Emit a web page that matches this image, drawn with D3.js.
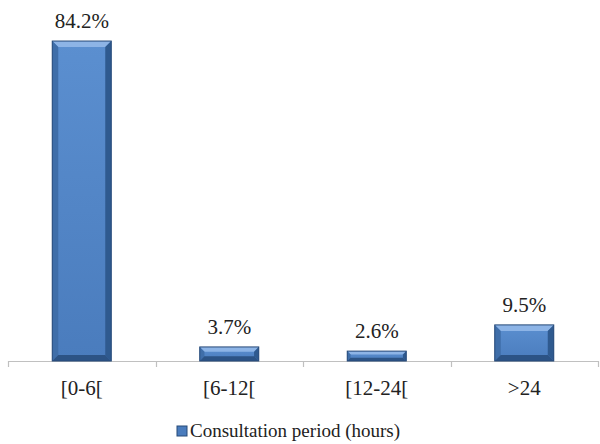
<!DOCTYPE html>
<html>
<head>
<meta charset="utf-8">
<script src="https://cdn.jsdelivr.net/npm/d3@7"></script>
<style>
  body { margin: 0; background: #fff; }
  svg { display: block; }
</style>
</head>
<body>
<svg width="600" height="444"></svg>
<script>
// values
var categories = ["[0-6[", "[6-12[", "[12-24[", ">24"];
var values = [84.2, 3.7, 2.6, 9.5];
var seriesName = "Consultation period (hours)";

var FONT = "'Liberation Serif', 'Times New Roman', serif";

var svg = d3.select("svg");
var plotLeft = 8, plotRight = 598, plotBottom = 361, plotTop = 19;

var x = d3.scaleBand().domain(categories).range([plotLeft, plotRight]).paddingInner(0.6).paddingOuter(0.3);
var y = d3.scaleLinear().domain([0, 90]).range([plotBottom, plotTop]);

var defs = svg.append("defs");
var g = defs.append("linearGradient").attr("id", "barFill").attr("x1", 0).attr("x2", 0).attr("y1", 0).attr("y2", 1);
g.append("stop").attr("offset", "0%").attr("stop-color", "#5b8fd0");
g.append("stop").attr("offset", "100%").attr("stop-color", "#4a7cbd");

// axis line + category boundary ticks
var step = (plotRight - plotLeft) / categories.length;
svg.append("line").attr("x1", plotLeft).attr("x2", plotRight).attr("y1", plotBottom + 0.5).attr("y2", plotBottom + 0.5)
  .attr("stroke", "#c0c0c0").attr("stroke-width", 1.2);
d3.range(categories.length + 1).forEach(function (i) {
  var tx = Math.round(plotLeft + i * step) + 0.5;
  svg.append("line").attr("x1", tx).attr("x2", tx).attr("y1", plotBottom).attr("y2", plotBottom + 6)
    .attr("stroke", "#c0c0c0").attr("stroke-width", 1.2);
});

var bars = svg.selectAll(".bar").data(values).enter().append("g").attr("class", "bar");

bars.each(function (d, i) {
  var b = d3.select(this);
  var x0 = x(categories[i]), w = x.bandwidth();
  var y0 = y(d), h = plotBottom - y0;
  var bv = Math.min(6, h / 3);
  b.append("rect").attr("x", x0).attr("y", y0).attr("width", w).attr("height", h).attr("fill", "url(#barFill)");
  // bevel edges
  b.append("polygon").attr("points", [[x0, y0], [x0 + w, y0], [x0 + w - bv, y0 + bv], [x0 + bv, y0 + bv]].join(" "))
    .attr("fill", "#8db4e6");
  b.append("polygon").attr("points", [[x0, y0], [x0 + bv, y0 + bv], [x0 + bv, y0 + h - bv], [x0, y0 + h]].join(" "))
    .attr("fill", "#3f6ea9");
  b.append("polygon").attr("points", [[x0 + w, y0], [x0 + w - bv, y0 + bv], [x0 + w - bv, y0 + h - bv], [x0 + w, y0 + h]].join(" "))
    .attr("fill", "#2f5a8f");
  b.append("polygon").attr("points", [[x0, y0 + h], [x0 + bv, y0 + h - bv], [x0 + w - bv, y0 + h - bv], [x0 + w, y0 + h]].join(" "))
    .attr("fill", "#2c5385");
  b.append("rect").attr("x", x0).attr("y", y0).attr("width", w).attr("height", h)
    .attr("fill", "none").attr("stroke", "#274a78").attr("stroke-width", 1);
});

// value labels
svg.selectAll(".val").data(values).enter().append("text")
  .attr("class", "val")
  .attr("x", function (d, i) { return x(categories[i]) + x.bandwidth() / 2; })
  .attr("y", function (d) { return y(d) - 13; })
  .attr("text-anchor", "middle")
  .attr("fill", "#222")
  .style("font-family", FONT)
  .style("font-size", "21px")
  .text(function (d) { return d + "%"; });

// category labels
svg.selectAll(".cat").data(categories).enter().append("text")
  .attr("class", "cat")
  .attr("x", function (d) { return x(d) + x.bandwidth() / 2; })
  .attr("y", 395)
  .attr("text-anchor", "middle")
  .attr("fill", "#222")
  .style("font-family", FONT)
  .style("font-size", "21px")
  .text(function (d) { return d; });

// legend
var lg = svg.append("g").attr("transform", "translate(177,426)");
lg.append("rect").attr("x", 0).attr("y", 0).attr("width", 10).attr("height", 10)
  .attr("fill", "#4a7cbd").attr("stroke", "#274a78");
lg.append("text").attr("x", 13).attr("y", 11).attr("fill", "#222")
  .style("font-family", FONT).style("font-size", "19px").text(seriesName);
</script>
</body>
</html>
